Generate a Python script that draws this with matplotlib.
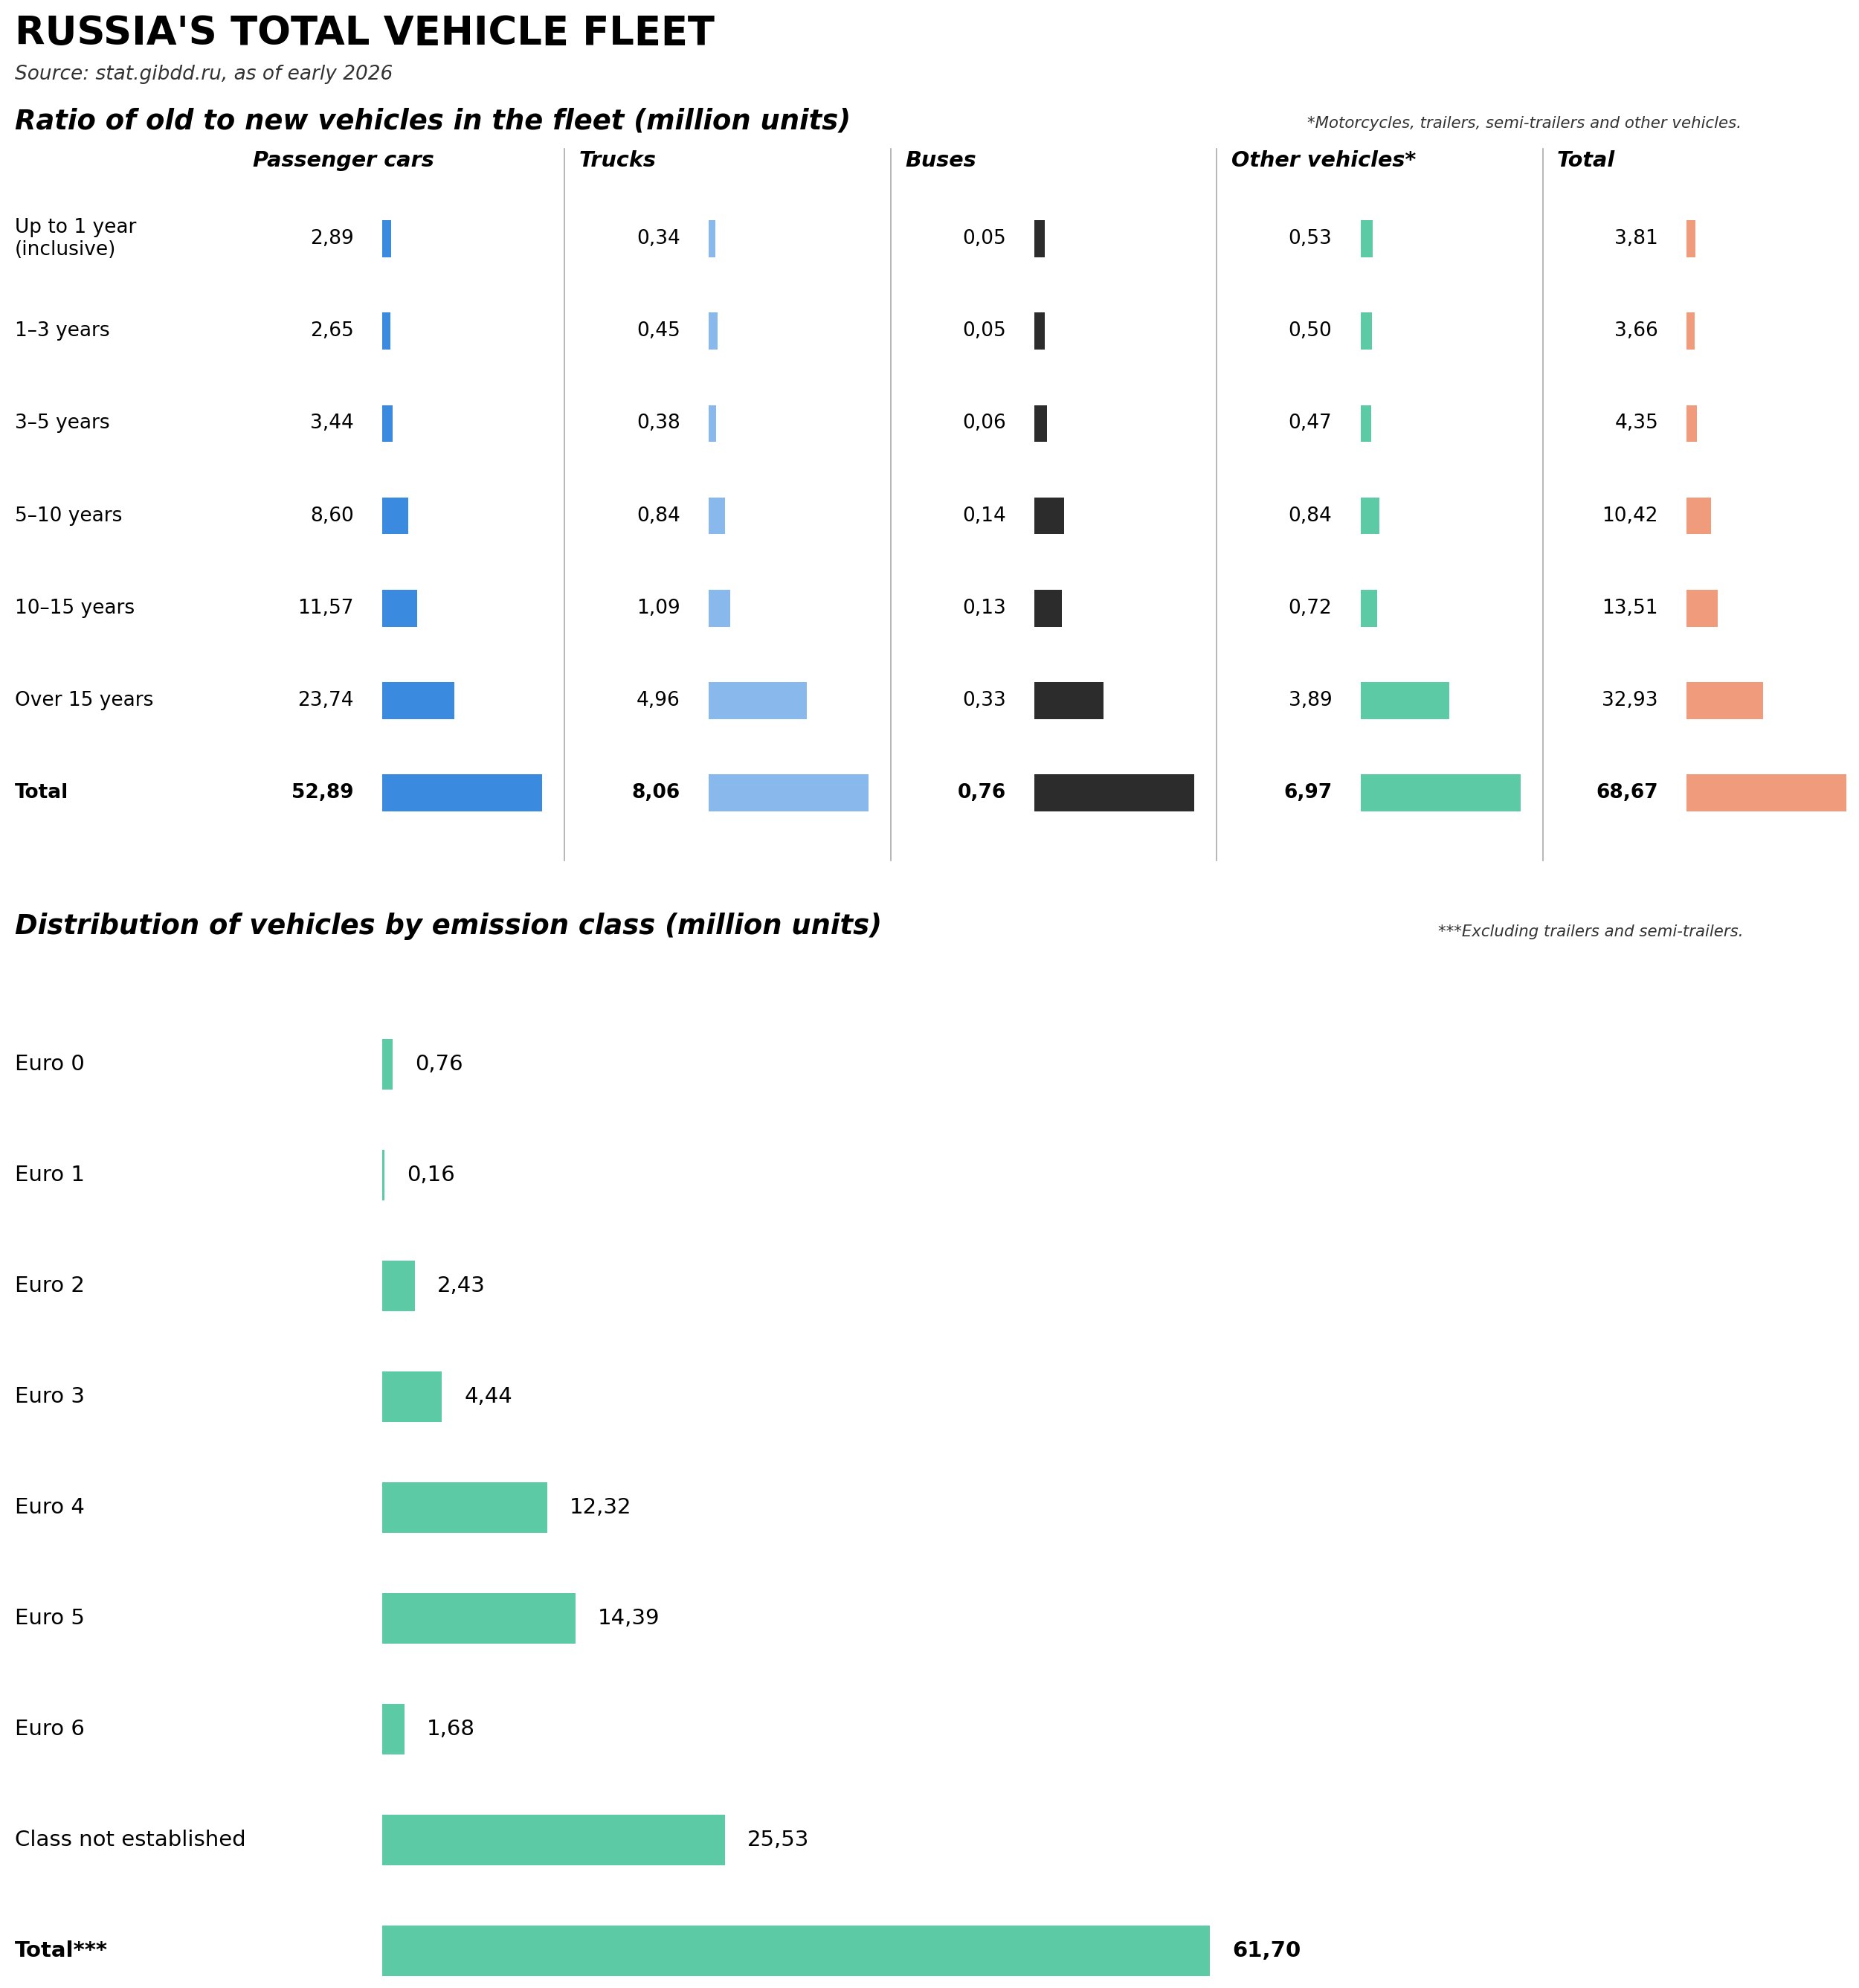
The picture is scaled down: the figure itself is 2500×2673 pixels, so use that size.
import matplotlib
matplotlib.use("Agg")
from matplotlib import pyplot as plt
from matplotlib.lines import Line2D

# age groups (million units)
age_labels = ['Up to 1 year\n(inclusive)', '1–3 years', '3–5 years', '5–10 years',
              '10–15 years', 'Over 15 years', 'Total']
cars = [2.89, 2.65, 3.44, 8.60, 11.57, 23.74, 52.89]
trucks = [0.34, 0.45, 0.38, 0.84, 1.09, 4.96, 8.06]
buses = [0.05, 0.05, 0.06, 0.14, 0.13, 0.33, 0.76]
other = [0.53, 0.50, 0.47, 0.84, 0.72, 3.89, 6.97]
total = [3.81, 3.66, 4.35, 10.42, 13.51, 32.93, 68.67]
col_names = ['Passenger cars', 'Trucks', 'Buses', 'Other vehicles*', 'Total']
col_colors = ['#3A8BDF', '#89B8EC', '#2C2C2C', '#5CCAA4', '#F09B7C']

# emission classes (million units)
euro_labels = ['Euro 0', 'Euro 1', 'Euro 2', 'Euro 3', 'Euro 4', 'Euro 5', 'Euro 6',
               'Class not established', 'Total***']
euro_values = [0.76, 0.16, 2.43, 4.44, 12.32, 14.39, 1.68, 25.53, 61.70]
euro_color = '#5CCAA4'

W, H = 2500, 2673
DPI = 200


def fx(px):
    return px / W


def fy(py):
    return 1 - py / H


def fmt(v):
    return f"{v:.2f}".replace('.', ',')


fig = plt.figure(figsize=(W / DPI, H / DPI), dpi=DPI)

fig.text(fx(20), fy(60), "RUSSIA'S TOTAL VEHICLE FLEET", fontsize=19.0,
         fontweight='bold', va='baseline')
fig.text(fx(20), fy(107), "Source: stat.gibdd.ru, as of early 2026", fontsize=9.5,
         style='italic', color='#333333', va='baseline')
fig.text(fx(20), fy(173), "Ratio of old to new vehicles in the fleet (million units)",
         fontsize=13.3, fontweight='bold', style='italic', va='baseline')
fig.text(fx(2342), fy(172), "*Motorcycles, trailers, semi-trailers and other vehicles.",
         fontsize=7.65, style='italic', color='#333333', ha='right', va='baseline')

# top panel: one axes per vehicle type
row0, row_step = 321, 124.2
n_rows = len(age_labels)
ax_top = row0 - row_step / 2
ax_bot = row0 + row_step * (n_rows - 0.5)
bar_w = 215
series = [cars, trucks, buses, other, total]

for i, (name, vals, col) in enumerate(zip(col_names, series, col_colors)):
    x0 = 514 + 438.5 * i
    ax = fig.add_axes([fx(x0), fy(ax_bot), bar_w / W, (ax_bot - ax_top) / H])
    ax.barh(range(n_rows), vals, height=0.4, color=col)
    ax.set_xlim(0, max(vals))
    ax.set_ylim(n_rows - 0.5, -0.5)
    ax.axis('off')
    for j, v in enumerate(vals):
        ax.annotate(fmt(v), xy=(0, j), xytext=(-38 * 72 / DPI, 0),
                    textcoords='offset points', ha='right', va='center',
                    fontsize=9.5, fontweight='bold' if j == n_rows - 1 else 'normal')
    fig.text(fx(x0 - 174), fy(224), name, fontsize=10.3, fontweight='bold',
             style='italic', va='baseline')
    if i < len(col_names) - 1:
        fig.add_artist(Line2D([fx(x0 + 245)] * 2, [fy(200), fy(1157)],
                              color='#AAAAAA', lw=0.6))

for j, lab in enumerate(age_labels):
    fig.text(fx(20), fy(row0 + row_step * j), lab, fontsize=9.5, va='center',
             fontweight='bold' if j == n_rows - 1 else 'normal')

# bottom panel
fig.text(fx(20), fy(1256), "Distribution of vehicles by emission class (million units)",
         fontsize=13.3, fontweight='bold', style='italic', va='baseline')
fig.text(fx(2344), fy(1259), "***Excluding trailers and semi-trailers.",
         fontsize=7.65, style='italic', color='#333333', ha='right', va='baseline')

e0, e_step = 1431, 149
n_e = len(euro_labels)
e_top = e0 - e_step / 2
e_bot = 2665
ax2 = fig.add_axes([fx(514), fy(e_bot), 1113 / W, (e_bot - e_top) / H])
ax2.barh(range(n_e), euro_values, height=0.45, color=euro_color)
ax2.set_xlim(0, max(euro_values))
ax2.set_ylim((e_bot - e0) / e_step, -0.5)
ax2.axis('off')
for j, v in enumerate(euro_values):
    ax2.annotate(fmt(v), xy=(v, j), xytext=(30 * 72 / DPI, 0),
                 textcoords='offset points', ha='left', va='center',
                 fontsize=10.5, fontweight='bold' if j == n_e - 1 else 'normal',
                 annotation_clip=False)
for j, lab in enumerate(euro_labels):
    fig.text(fx(20), fy(e0 + e_step * j), lab, fontsize=10.5, va='center',
             fontweight='bold' if j == n_e - 1 else 'normal')

fig.savefig('out.png', dpi=DPI)
